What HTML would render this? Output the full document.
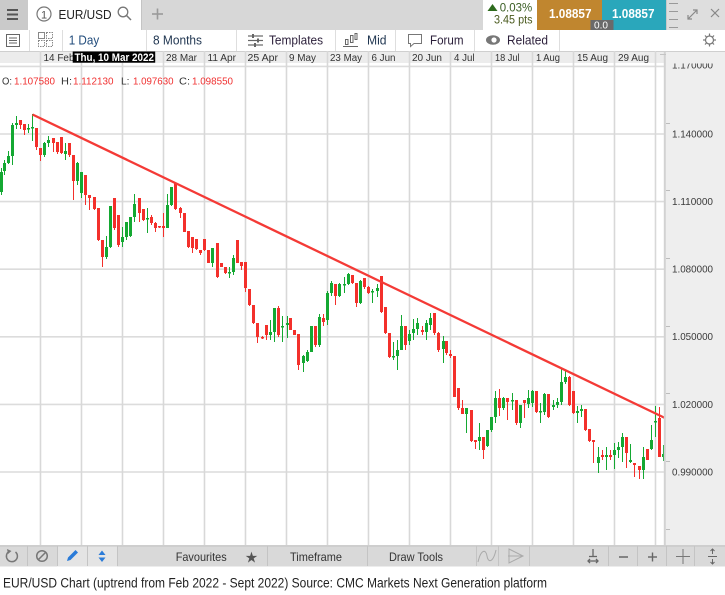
<!DOCTYPE html>
<html><head><meta charset="utf-8"><style>
html,body{margin:0;padding:0;background:#fff;}
svg{display:block;font-family:"Liberation Sans",Arial,sans-serif;}
</style></head><body>
<svg width="725" height="595" viewBox="0 0 725 595" xmlns="http://www.w3.org/2000/svg">
<rect width="725" height="595" fill="#fff"/>
<!-- Row 1 -->
<rect x="0" y="0" width="725" height="30" fill="#d7d7d7"/>
<rect x="0" y="0" width="28" height="30" fill="#cacaca"/>
<g fill="#555"><rect x="7" y="9" width="11" height="2"/><rect x="7" y="13.5" width="11" height="2"/><rect x="7" y="18" width="11" height="2"/></g>
<rect x="28" y="0" width="113" height="30" fill="#fff"/>
<line x1="141.5" y1="0" x2="141.5" y2="30" stroke="#c4c4c4"/>
<circle cx="44" cy="14" r="7" fill="none" stroke="#777" stroke-width="1.2"/>
<text x="41" y="18.5" font-size="11" fill="#555">1</text>
<text x="58.5" y="19" font-size="13" fill="#222" textLength="53" lengthAdjust="spacingAndGlyphs">EUR/USD</text>
<circle cx="123" cy="12" r="4.8" fill="none" stroke="#777" stroke-width="1.3"/>
<line x1="126.5" y1="15.5" x2="131" y2="20" stroke="#777" stroke-width="1.5"/>
<g stroke="#9a9a9a" stroke-width="1.6"><line x1="152" y1="14" x2="163" y2="14"/><line x1="157.5" y1="8.5" x2="157.5" y2="19.5"/></g>
<rect x="483" y="0" width="54" height="30" fill="#fff"/>
<polygon points="487.5,11 492.5,4 497.5,11" fill="#2e6b1e"/>
<text x="499.7" y="11.5" font-size="12" fill="#3a5e24" textLength="32.5" lengthAdjust="spacingAndGlyphs">0.03%</text>
<text x="494" y="23.5" font-size="12" fill="#4a5a1e" textLength="38.5" lengthAdjust="spacingAndGlyphs">3.45 pts</text>
<rect x="537" y="0" width="65" height="30" fill="#c0862f"/>
<rect x="602" y="0" width="64" height="30" fill="#2aa7bb"/>
<text x="549" y="18" font-size="13" font-weight="bold" fill="#fff" textLength="42.5" lengthAdjust="spacingAndGlyphs">1.08857</text>
<text x="612" y="18" font-size="13" font-weight="bold" fill="#fff" textLength="42.5" lengthAdjust="spacingAndGlyphs">1.08857</text>
<rect x="590.5" y="20" width="23" height="10" fill="#6a6a6a"/>
<text x="594" y="28.5" font-size="10" fill="#fff" textLength="14" lengthAdjust="spacingAndGlyphs">0.0</text>
<rect x="666" y="0" width="59" height="30" fill="#dedede"/>
<line x1="666.5" y1="0" x2="666.5" y2="30" stroke="#c8c8c8"/>
<g stroke="#999" stroke-width="1"><line x1="669" y1="3.5" x2="678" y2="3.5"/><line x1="669" y1="11.5" x2="678" y2="11.5"/><line x1="669" y1="19.5" x2="678" y2="19.5"/><line x1="669" y1="27.5" x2="678" y2="27.5"/></g>
<g stroke="#888" stroke-width="1.2" fill="none"><line x1="688" y1="19" x2="697" y2="10"/><polyline points="693,10 697,10 697,14"/><polyline points="688,15 688,19 692,19"/><line x1="711" y1="9" x2="719" y2="17"/><line x1="719" y1="9" x2="711" y2="17"/></g>
<!-- Row 2 -->
<rect x="0" y="30" width="725" height="21" fill="#fff"/>
<g stroke="#dedede" stroke-width="1"><line x1="29.5" y1="30" x2="29.5" y2="51"/><line x1="62.5" y1="30" x2="62.5" y2="51"/><line x1="146.5" y1="30" x2="146.5" y2="51"/><line x1="236.5" y1="30" x2="236.5" y2="51"/><line x1="335.5" y1="30" x2="335.5" y2="51"/><line x1="395.5" y1="30" x2="395.5" y2="51"/><line x1="474.5" y1="30" x2="474.5" y2="51"/><line x1="559.5" y1="30" x2="559.5" y2="51"/></g>
<g stroke="#666" fill="none" stroke-width="1"><rect x="6.5" y="34.5" width="13" height="12"/><line x1="9" y1="38" x2="17" y2="38"/><line x1="9" y1="40.5" x2="17" y2="40.5"/><line x1="9" y1="43" x2="17" y2="43"/></g>
<g stroke="#888" fill="none" stroke-width="1"><rect x="38.5" y="32.5" width="6" height="6"/><rect x="46.5" y="32.5" width="6" height="6" stroke-dasharray="1.5 1"/><rect x="38.5" y="40.5" width="6" height="6" stroke-dasharray="1.5 1"/><rect x="46.5" y="40.5" width="6" height="6" stroke-dasharray="1.5 1"/></g>
<text x="68.7" y="44.5" font-size="13" fill="#1f4a7a" textLength="30.5" lengthAdjust="spacingAndGlyphs">1 Day</text>
<text x="153" y="44.5" font-size="13" fill="#1f3550" textLength="49" lengthAdjust="spacingAndGlyphs">8 Months</text>
<g stroke="#666" stroke-width="1.2"><line x1="248" y1="36" x2="263" y2="36"/><line x1="248" y1="40.5" x2="263" y2="40.5"/><line x1="248" y1="45" x2="263" y2="45"/></g>
<g fill="#666"><rect x="252" y="34" width="2" height="4"/><rect x="257" y="38.5" width="2" height="4"/><rect x="254" y="43" width="2" height="4"/></g>
<text x="269" y="44.5" font-size="13" fill="#2b1f3a" textLength="54" lengthAdjust="spacingAndGlyphs">Templates</text>
<g stroke="#666" fill="none" stroke-width="1"><rect x="345.5" y="39.5" width="2.5" height="5"/><rect x="350.5" y="35.5" width="2.5" height="7"/><rect x="355" y="33.5" width="2" height="6"/><line x1="343" y1="46.5" x2="358" y2="46.5"/></g>
<text x="367" y="44.5" font-size="13" fill="#1f3550" textLength="19.5" lengthAdjust="spacingAndGlyphs">Mid</text>
<path d="M408.5 34.5 H421.5 V43.5 H414 L410.5 46.5 V43.5 H408.5 Z" fill="none" stroke="#777" stroke-width="1"/>
<text x="430" y="44.5" font-size="13" fill="#2b1f3a" textLength="33.5" lengthAdjust="spacingAndGlyphs">Forum</text>
<ellipse cx="493" cy="40" rx="7" ry="4.8" fill="#777"/><circle cx="494" cy="40" r="2.6" fill="#fff"/>
<text x="507" y="44.5" font-size="13" fill="#2b1f3a" textLength="41" lengthAdjust="spacingAndGlyphs">Related</text>
<g stroke="#777" fill="none" stroke-width="1.2"><circle cx="709.5" cy="40" r="4"/><line x1="709.5" y1="33.5" x2="709.5" y2="36"/><line x1="709.5" y1="44" x2="709.5" y2="46.5"/><line x1="703" y1="40" x2="705.5" y2="40"/><line x1="713.5" y1="40" x2="716" y2="40"/><line x1="705" y1="35.5" x2="706.5" y2="37"/><line x1="712.5" y1="43" x2="714" y2="44.5"/><line x1="714" y1="35.5" x2="712.5" y2="37"/><line x1="706.5" y1="43" x2="705" y2="44.5"/></g>
<!-- Chart area -->
<rect x="0" y="51" width="664" height="494" fill="#fff"/>
<g stroke="#dcdcdc" stroke-width="1.6">
<line x1="0" y1="66.4" x2="664" y2="66.4"/><line x1="0" y1="134" x2="664" y2="134"/><line x1="0" y1="201.6" x2="664" y2="201.6"/><line x1="0" y1="269.2" x2="664" y2="269.2"/><line x1="0" y1="336.8" x2="664" y2="336.8"/><line x1="0" y1="404.4" x2="664" y2="404.4"/><line x1="0" y1="472" x2="664" y2="472"/>
</g>
<rect x="0" y="51" width="664" height="12" fill="#ececec"/>
<line x1="0" y1="51.5" x2="664" y2="51.5" stroke="#cfcfcf"/>
<g stroke="#d8d8d8" stroke-width="1.6">
<line x1="40.5" y1="51" x2="40.5" y2="545"/><line x1="81.5" y1="51" x2="81.5" y2="545"/><line x1="122.5" y1="51" x2="122.5" y2="545"/><line x1="163.5" y1="51" x2="163.5" y2="545"/><line x1="204.5" y1="51" x2="204.5" y2="545"/><line x1="245.5" y1="51" x2="245.5" y2="545"/><line x1="286.5" y1="51" x2="286.5" y2="545"/><line x1="327.5" y1="51" x2="327.5" y2="545"/><line x1="368.5" y1="51" x2="368.5" y2="545"/><line x1="409.5" y1="51" x2="409.5" y2="545"/><line x1="450.5" y1="51" x2="450.5" y2="545"/><line x1="491.5" y1="51" x2="491.5" y2="545"/><line x1="532.5" y1="51" x2="532.5" y2="545"/><line x1="573.5" y1="51" x2="573.5" y2="545"/><line x1="614.5" y1="51" x2="614.5" y2="545"/><line x1="655.5" y1="51" x2="655.5" y2="545"/>
</g>
<g font-size="10" fill="#333">
<text x="43.5" y="61" textLength="31" lengthAdjust="spacingAndGlyphs">14 Feb</text>
<text x="166" y="61" textLength="31" lengthAdjust="spacingAndGlyphs">28 Mar</text>
<text x="207.5" y="61" textLength="28.5" lengthAdjust="spacingAndGlyphs">11 Apr</text>
<text x="247.5" y="61" textLength="30.5" lengthAdjust="spacingAndGlyphs">25 Apr</text>
<text x="289" y="61" textLength="27" lengthAdjust="spacingAndGlyphs">9 May</text>
<text x="330" y="61" textLength="32" lengthAdjust="spacingAndGlyphs">23 May</text>
<text x="371.5" y="61" textLength="24" lengthAdjust="spacingAndGlyphs">6 Jun</text>
<text x="412" y="61" textLength="30" lengthAdjust="spacingAndGlyphs">20 Jun</text>
<text x="454" y="61" textLength="20.5" lengthAdjust="spacingAndGlyphs">4 Jul</text>
<text x="495" y="61" textLength="24.5" lengthAdjust="spacingAndGlyphs">18 Jul</text>
<text x="536" y="61" textLength="24" lengthAdjust="spacingAndGlyphs">1 Aug</text>
<text x="577" y="61" textLength="31" lengthAdjust="spacingAndGlyphs">15 Aug</text>
<text x="618" y="61" textLength="31" lengthAdjust="spacingAndGlyphs">29 Aug</text>
</g>
<rect x="72.7" y="51.5" width="82.5" height="11.2" fill="#000"/>
<text x="74.5" y="61" font-size="11" font-weight="bold" fill="#fff" textLength="79.5" lengthAdjust="spacingAndGlyphs">Thu, 10 Mar 2022</text>
<!-- Candles -->
<path fill="none" stroke="#14a832" stroke-width="1" d="M1.5 168V195M4.5 160V175M8.5 151V164M12.5 123V165M16.5 116V129M28.5 124V133M32.5 114V141M44.5 142V157M48.5 136V147M65.5 143V160M77.5 162V185M81.5 172V198M106.5 236V259M110.5 206V248M122.5 227V247M126.5 222V240M130.5 217V237M134.5 194V222M147.5 208V233M167.5 194V228M171.5 187V206M212.5 248V267M229.5 267V278M233.5 255V275M270.5 320V340M274.5 308V342M282.5 316V342M287.5 316V338M303.5 355V372M307.5 350V362M311.5 326V352M319.5 314V347M327.5 291V325M331.5 281V296M339.5 283V297M344.5 277V293M348.5 273V285M360.5 280V304M372.5 289V303M377.5 284V297M393.5 342V360M397.5 340V370M401.5 315V350M409.5 330V345M413.5 319V340M417.5 318V335M426.5 320V340M430.5 313V330M443.5 336V363M466.5 408V433M479.5 423V450M487.5 430V447M491.5 417V432M495.5 391V423M503.5 397V410M512.5 393V410M520.5 405V428M528.5 390V408M532.5 390V407M540.5 403V423M544.5 393V415M553.5 400V410M557.5 398V408M561.5 369V405M565.5 370V384M577.5 406V423M581.5 405V417M598.5 447V473M606.5 447V470M614.5 443V469M618.5 442V458M622.5 433V462M630.5 444V463M643.5 447V479M651.5 425V450M655.5 406V437M663.5 445V461"/>
<path fill="none" stroke="#14a832" stroke-width="3" d="M1.5 172V192M4.5 163V171M8.5 156V163M12.5 125V156M16.5 123V125M28.5 128V129.5M32.5 127V128.5M44.5 143V155M48.5 140V143M65.5 151V154M77.5 163V181M81.5 172V193M106.5 247V257M110.5 206V247M122.5 237V242M126.5 222V237M130.5 217V236M134.5 204V217M147.5 218V219.5M167.5 205V228M171.5 187V205M212.5 248V263M229.5 272V273.5M233.5 258V272M270.5 332V335M274.5 308V332M282.5 326V327.5M287.5 323V325M303.5 356V363M307.5 352V361M311.5 326V352M319.5 317V345M327.5 293V320M331.5 283V293M339.5 284V296M344.5 284V285.5M348.5 274V284M360.5 281V303M372.5 291V292.5M377.5 288V291M393.5 356V357.5M397.5 350V356M401.5 326V350M409.5 334V341M413.5 329V333M417.5 323V329M426.5 323V332M430.5 318V325M443.5 341V349M466.5 408V414M479.5 437V441M487.5 430V446M491.5 417V430M495.5 398V417M503.5 398V408M512.5 400V401.5M520.5 405V423M528.5 398V404M532.5 391V403M540.5 411V412.5M544.5 394V412M553.5 405V407M557.5 402V405M561.5 382V402M565.5 377V382M577.5 411V413M581.5 409V411M598.5 457V463M606.5 455V457M614.5 450V455M618.5 447V450M622.5 437V447M630.5 460V462M643.5 457V470M651.5 440V449M655.5 421V422.5M663.5 454V457"/>
<path fill="none" stroke="#f3302b" stroke-width="1" d="M20.5 120V129M24.5 124V135M36.5 128V150M40.5 148V161M53.5 138V152M57.5 142V154M61.5 137V154M69.5 143V157M73.5 155V200M85.5 175V205M89.5 195V210M94.5 197V210M98.5 208V241M102.5 240V267M114.5 198V230M118.5 215V247M139.5 198V222M143.5 209V221M151.5 215V225M155.5 222V232M159.5 226V228M163.5 213V237M175.5 183V210M180.5 207V218M184.5 213V232M188.5 231V248M192.5 237V253M196.5 239V250M200.5 250V255M204.5 239V251M208.5 250V263M217.5 243V278M221.5 263V267M225.5 267V274M237.5 240V263M241.5 262V270M245.5 262V292M249.5 289V306M253.5 305V324M257.5 323V343M262.5 336V339M266.5 325V340M278.5 306V337M290.5 318V330M294.5 330V335M298.5 334V370M315.5 326V347M323.5 314V326M335.5 284V305M352.5 275V284M356.5 283V307M364.5 278V289M368.5 286V294M381.5 276V313M385.5 307V334M389.5 333V358M405.5 326V350M422.5 326V335M434.5 313V335M438.5 332V352M446.5 341V355M450.5 350V358M454.5 356V397M458.5 388V410M462.5 400V414M471.5 410V442M475.5 440V449M483.5 437V459M499.5 389V416M507.5 398V420M516.5 400V425M524.5 400V418M536.5 391V413M548.5 394V418M569.5 376V406M573.5 391V414M585.5 409V431M589.5 429V442M593.5 440V463M602.5 450V460M610.5 450V460M626.5 437V468M634.5 463V477M639.5 466V479M647.5 449V460M659.5 407V457"/>
<path fill="none" stroke="#f3302b" stroke-width="3" d="M20.5 120V125M24.5 124V130M36.5 128V147M40.5 148V155M53.5 138V143M57.5 142V152M61.5 137V153M69.5 143V155M73.5 155V181M85.5 175V195M89.5 195V198M94.5 197V209M98.5 208V240M102.5 240V257M114.5 198V228M118.5 215V245M139.5 198V213M143.5 209V220M151.5 217V223M155.5 223V228M159.5 226V227.5M163.5 226V228M175.5 183V209M180.5 208V213M184.5 213V232M188.5 231V247M192.5 237V248M196.5 239V249M200.5 250V253M204.5 239V250M208.5 250V263M217.5 243V277M221.5 263V267M225.5 267V273M237.5 240V263M241.5 262V266M245.5 262V288M249.5 289V305M253.5 305V323M257.5 323V337M262.5 337V338.5M266.5 325V335M278.5 308V335M290.5 318V330M294.5 330V335M298.5 334V365M315.5 326V345M323.5 318V322M335.5 284V296M352.5 275V283M356.5 283V303M364.5 278V287M368.5 287V293M381.5 276V312M385.5 307V333M389.5 333V357M405.5 326V345M422.5 330V332M434.5 313V333M438.5 333V350M446.5 341V353M450.5 354V356M454.5 356V397M458.5 388V408M462.5 408V414M471.5 410V441M475.5 440V442M483.5 437V450M499.5 398V408M507.5 398V402M516.5 400V423M524.5 400V403M536.5 391V412M548.5 394V417M569.5 377V405M573.5 391V413M585.5 409V430M589.5 429V441M593.5 440V442M602.5 455V457M610.5 455V457M626.5 437V453M634.5 463V465M639.5 466V470M647.5 449V460M659.5 418V457"/>
<line x1="32.5" y1="114.5" x2="666" y2="418.5" stroke="#f43a36" stroke-width="2.3"/>
<!-- OHLC -->
<g font-size="10.5">
<text x="2" y="84.5" fill="#333" textLength="10" lengthAdjust="spacingAndGlyphs">O:</text>
<text x="14" y="84.5" fill="#f03030" textLength="41" lengthAdjust="spacingAndGlyphs">1.107580</text>
<text x="61" y="84.5" fill="#333" textLength="11" lengthAdjust="spacingAndGlyphs">H:</text>
<text x="73" y="84.5" fill="#f03030" textLength="40.5" lengthAdjust="spacingAndGlyphs">1.112130</text>
<text x="121" y="84.5" fill="#333" textLength="8.5" lengthAdjust="spacingAndGlyphs">L:</text>
<text x="133" y="84.5" fill="#f03030" textLength="40.5" lengthAdjust="spacingAndGlyphs">1.097630</text>
<text x="179" y="84.5" fill="#333" textLength="11" lengthAdjust="spacingAndGlyphs">C:</text>
<text x="192" y="84.5" fill="#f03030" textLength="41" lengthAdjust="spacingAndGlyphs">1.098550</text>
</g>
<!-- Y axis -->
<rect x="664" y="51" width="61" height="494" fill="#eeeeee"/>
<line x1="664.8" y1="51" x2="664.8" y2="545" stroke="#d2d2d2" stroke-width="2"/>
<g stroke="#bcbcbc" stroke-width="1"><line x1="666" y1="56.5" x2="670" y2="56.5"/><line x1="666" y1="123.5" x2="670" y2="123.5"/><line x1="666" y1="190.5" x2="670" y2="190.5"/><line x1="666" y1="258.5" x2="670" y2="258.5"/><line x1="666" y1="326.5" x2="670" y2="326.5"/><line x1="666" y1="393.5" x2="670" y2="393.5"/><line x1="666" y1="461.5" x2="670" y2="461.5"/><line x1="666" y1="529.5" x2="670" y2="529.5"/></g>
<g font-size="10.5" fill="#3a3a3a">
<text x="672" y="68.5" textLength="41" lengthAdjust="spacingAndGlyphs">1.170000</text>
<text x="672" y="137.5" textLength="41" lengthAdjust="spacingAndGlyphs">1.140000</text>
<text x="672" y="205" textLength="41" lengthAdjust="spacingAndGlyphs">1.110000</text>
<text x="672" y="272.5" textLength="41" lengthAdjust="spacingAndGlyphs">1.080000</text>
<text x="672" y="340" textLength="41" lengthAdjust="spacingAndGlyphs">1.050000</text>
<text x="672" y="408" textLength="41" lengthAdjust="spacingAndGlyphs">1.020000</text>
<text x="672" y="475.5" textLength="41" lengthAdjust="spacingAndGlyphs">0.990000</text>
</g>
<rect x="666" y="51" width="59" height="12.5" fill="#eeeeee"/>
<line x1="656" y1="51.5" x2="725" y2="51.5" stroke="#cfcfcf"/>
<line x1="660" y1="54.5" x2="666" y2="54.5" stroke="#c4c4c4"/>
<!-- Bottom toolbar -->
<rect x="0" y="546" width="725" height="20.5" fill="#d9d9d9"/>
<rect x="57" y="546" width="60" height="20.5" fill="#e4e4e4"/>
<line x1="0" y1="545.8" x2="725" y2="545.8" stroke="#bdbdbd" stroke-width="1.2"/>
<g stroke="#c4c4c4" stroke-width="1"><line x1="27.5" y1="546" x2="27.5" y2="566"/><line x1="57.5" y1="546" x2="57.5" y2="566"/><line x1="87.5" y1="546" x2="87.5" y2="566"/><line x1="117.5" y1="546" x2="117.5" y2="566"/><line x1="267.5" y1="546" x2="267.5" y2="566"/><line x1="367.5" y1="546" x2="367.5" y2="566"/><line x1="476.5" y1="546" x2="476.5" y2="566"/><line x1="498.5" y1="546" x2="498.5" y2="566"/><line x1="529.5" y1="546" x2="529.5" y2="566"/><line x1="608.5" y1="546" x2="608.5" y2="566"/><line x1="637.5" y1="546" x2="637.5" y2="566"/><line x1="666.5" y1="546" x2="666.5" y2="566"/><line x1="694.5" y1="546" x2="694.5" y2="566"/></g>
<path d="M9 551.5 A5.5 5.5 0 1 0 15.5 552" fill="none" stroke="#777" stroke-width="1.5"/>
<polygon points="7,549 11.5,551 8,554" fill="#777"/>
<circle cx="42" cy="556" r="5.3" fill="none" stroke="#777" stroke-width="1.5"/>
<line x1="38.5" y1="559.5" x2="45.5" y2="552.5" stroke="#777" stroke-width="1.5"/>
<path d="M67 561 L68 557.5 L75.5 550 L78 552.5 L70.5 560 Z" fill="#2a7bd8"/>
<polygon points="102,550.5 98.5,555 105.5,555" fill="#2a7bd8"/>
<polygon points="102,562 98.5,557.5 105.5,557.5" fill="#2a7bd8"/>
<text x="175.7" y="561" font-size="12" fill="#333" textLength="51" lengthAdjust="spacingAndGlyphs">Favourites</text>
<text x="251.5" y="562.5" font-size="15" fill="#555" text-anchor="middle">★</text>
<text x="290" y="561" font-size="12" fill="#333" textLength="52" lengthAdjust="spacingAndGlyphs">Timeframe</text>
<text x="389" y="561" font-size="12" fill="#333" textLength="54" lengthAdjust="spacingAndGlyphs">Draw Tools</text>
<path d="M478 562 C481 549, 486 549, 487 556 C488 563, 493 563, 496 550" fill="none" stroke="#aaa" stroke-width="1"/>
<g fill="none" stroke="#aaa" stroke-width="1"><polygon points="509,549 523,556 509,563"/><line x1="508" y1="556" x2="523" y2="556"/></g>
<g stroke="#666" stroke-width="1.3" fill="none"><line x1="593" y1="549" x2="593" y2="557"/><line x1="589" y1="556.5" x2="597" y2="556.5"/><line x1="588" y1="561" x2="598" y2="561"/><polyline points="590,559 588,561 590,563"/><polyline points="596,559 598,561 596,563"/></g>
<line x1="619" y1="557" x2="628" y2="557" stroke="#666" stroke-width="1.5"/>
<g stroke="#666" stroke-width="1.4"><line x1="648" y1="557" x2="657" y2="557"/><line x1="652.5" y1="552.5" x2="652.5" y2="561.5"/></g>
<g stroke="#777" stroke-width="1"><line x1="676" y1="556.5" x2="690" y2="556.5"/><line x1="683" y1="549" x2="683" y2="564"/></g>
<g stroke="#666" stroke-width="1" fill="none"><line x1="708" y1="556.5" x2="717" y2="556.5"/><line x1="712.5" y1="549" x2="712.5" y2="554"/><line x1="712.5" y1="559" x2="712.5" y2="564"/><polyline points="710.5,551 712.5,549 714.5,551"/><polyline points="710.5,562 712.5,564 714.5,562"/></g>
<!-- Caption -->
<text x="3" y="587.3" font-size="13.5" fill="#222" textLength="544" lengthAdjust="spacingAndGlyphs">EUR/USD Chart (uptrend from Feb 2022 - Sept 2022) Source: CMC Markets Next Generation platform</text>
</svg>
</body></html>
